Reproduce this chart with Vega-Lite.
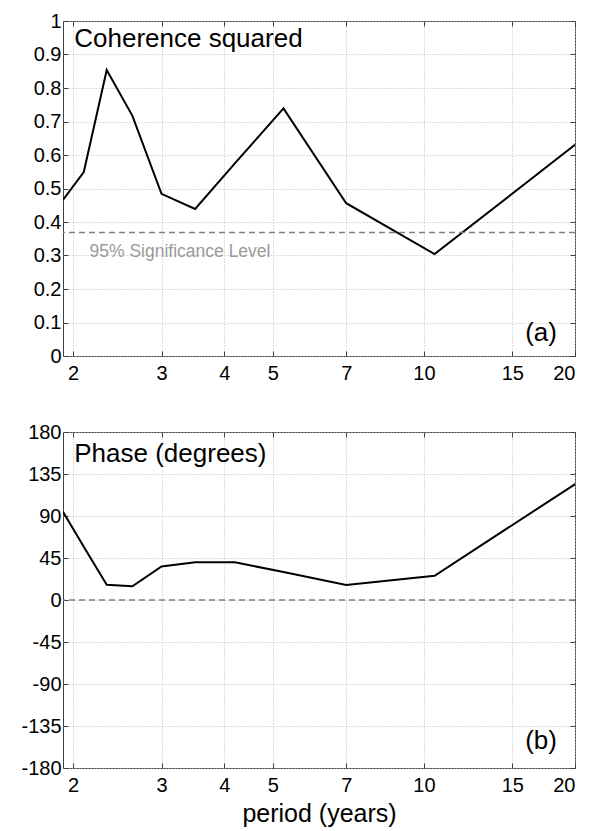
{
  "$schema": "https://vega.github.io/schema/vega-lite/v6.json",
  "padding": {"left": 20, "top": 10, "right": 5, "bottom": 0},
  "background": "white",
  "datasets": {
    "spectra": [
      {"period": 1.909, "coherence": 0.466, "phase": 94.5},
      {"period": 2.1, "coherence": 0.549, "phase": 57},
      {"period": 2.333, "coherence": 0.854, "phase": 16.4},
      {"period": 2.625, "coherence": 0.717, "phase": 14.7},
      {"period": 3.0, "coherence": 0.484, "phase": 36},
      {"period": 3.5, "coherence": 0.439, "phase": 40.4},
      {"period": 4.2, "coherence": 0.575, "phase": 40.4},
      {"period": 5.25, "coherence": 0.739, "phase": 30},
      {"period": 7.0, "coherence": 0.456, "phase": 16},
      {"period": 10.5, "coherence": 0.304, "phase": 26},
      {"period": 21.0, "coherence": 0.655, "phase": 131.5}
    ]
  },
  "config": {
    "font": "Liberation Sans",
    "view": {"stroke": "#404040", "strokeWidth": 1},
    "axis": {
      "domain": false,
      "labelFont": "Liberation Sans",
      "labelFontSize": 20,
      "labelColor": "#000",
      "tickColor": "#404040",
      "tickSize": -5,
      "gridColor": "#bdbdbd",
      "gridDash": [1, 2],
      "gridWidth": 1,
      "titleFont": "Liberation Sans",
      "titleFontWeight": "normal",
      "titleColor": "#000"
    },
    "concat": {"spacing": 37}
  },
  "vconcat": [
    {
      "width": 512,
      "height": 335,
      "layer": [
        {
          "data": {"name": "spectra"},
          "mark": {"type": "line", "color": "#000", "strokeWidth": 2, "clip": true},
          "encoding": {
            "x": {"field": "period", "type": "quantitative",
                  "scale": {"type": "log", "domain": [1.909, 20], "nice": false},
                  "axis": {"orient": "bottom", "values": [2, 3, 4, 5, 7, 10, 15, 20], "labelExpr": "toString(datum.value)", "title": null, "labelPadding": 12}},
            "y": {"field": "coherence", "type": "quantitative",
                  "scale": {"domain": [0, 1], "nice": false},
                  "axis": {"orient": "left", "values": [0, 0.1, 0.2, 0.3, 0.4, 0.5, 0.6, 0.7, 0.8, 0.9, 1], "labelExpr": "toString(datum.value)", "title": null, "labelPadding": 7}}
          }
        },
        {
          "data": {"values": [{"level": 0.369}]},
          "mark": {"type": "rule", "color": "#808080", "strokeDash": [6, 4], "strokeWidth": 1.5},
          "encoding": {"y": {"field": "level", "type": "quantitative", "scale": {"domain": [0, 1], "nice": false}, "axis": null}}
        },
        {
          "data": {"values": [{"label": "95% Significance Level"}]},
          "mark": {"type": "text", "align": "left", "baseline": "alphabetic", "fontSize": 17.5, "color": "#9a9a9a"},
          "encoding": {
            "x": {"datum": 2.156, "type": "quantitative", "scale": {"type": "log", "domain": [1.909, 20], "nice": false}, "axis": null},
            "y": {"datum": 0.296, "type": "quantitative", "scale": {"domain": [0, 1], "nice": false}, "axis": null},
            "text": {"field": "label"}
          }
        },
        {
          "data": {"values": [{"label": "Coherence squared"}]},
          "mark": {"type": "text", "align": "left", "baseline": "alphabetic", "fontSize": 26, "color": "#000"},
          "encoding": {
            "x": {"datum": 2.01, "type": "quantitative", "scale": {"type": "log", "domain": [1.909, 20], "nice": false}, "axis": null},
            "y": {"datum": 0.921, "type": "quantitative", "scale": {"domain": [0, 1], "nice": false}, "axis": null},
            "text": {"field": "label"}
          }
        },
        {
          "data": {"values": [{"label": "(a)"}]},
          "mark": {"type": "text", "align": "right", "baseline": "alphabetic", "fontSize": 26, "color": "#000"},
          "encoding": {
            "x": {"datum": 18.41, "type": "quantitative", "scale": {"type": "log", "domain": [1.909, 20], "nice": false},
                  "axis": {"orient": "top", "values": [2, 3, 4, 5, 7, 10, 15, 20], "labels": false, "grid": false, "title": null}},
            "y": {"datum": 0.045, "type": "quantitative", "scale": {"domain": [0, 1], "nice": false},
                  "axis": {"orient": "right", "values": [0, 0.1, 0.2, 0.3, 0.4, 0.5, 0.6, 0.7, 0.8, 0.9, 1], "labels": false, "grid": false, "title": null}},
            "text": {"field": "label"}
          }
        }
      ],
      "resolve": {"axis": {"x": "independent", "y": "independent"}}
    },
    {
      "width": 512,
      "height": 336,
      "layer": [
        {
          "data": {"name": "spectra"},
          "mark": {"type": "line", "color": "#000", "strokeWidth": 2, "clip": true},
          "encoding": {
            "x": {"field": "period", "type": "quantitative",
                  "scale": {"type": "log", "domain": [1.909, 20], "nice": false},
                  "axis": {"orient": "bottom", "values": [2, 3, 4, 5, 7, 10, 15, 20], "labelExpr": "toString(datum.value)", "title": "period (years)", "titleFontSize": 25, "titlePadding": 6, "labelPadding": 12}},
            "y": {"field": "phase", "type": "quantitative",
                  "scale": {"domain": [-180, 180], "nice": false},
                  "axis": {"orient": "left", "values": [-180, -135, -90, -45, 0, 45, 90, 135, 180], "labelExpr": "toString(datum.value)", "title": null, "labelPadding": 7}}
          }
        },
        {
          "data": {"values": [{"level": 0}]},
          "mark": {"type": "rule", "color": "#808080", "strokeDash": [6, 4], "strokeWidth": 1.5},
          "encoding": {"y": {"field": "level", "type": "quantitative", "scale": {"domain": [-180, 180], "nice": false}, "axis": null}}
        },
        {
          "data": {"values": [{"label": "Phase (degrees)"}]},
          "mark": {"type": "text", "align": "left", "baseline": "alphabetic", "fontSize": 26, "color": "#000"},
          "encoding": {
            "x": {"datum": 2.01, "type": "quantitative", "scale": {"type": "log", "domain": [1.909, 20], "nice": false}, "axis": null},
            "y": {"datum": 148, "type": "quantitative", "scale": {"domain": [-180, 180], "nice": false}, "axis": null},
            "text": {"field": "label"}
          }
        },
        {
          "data": {"values": [{"label": "(b)"}]},
          "mark": {"type": "text", "align": "right", "baseline": "alphabetic", "fontSize": 26, "color": "#000"},
          "encoding": {
            "x": {"datum": 18.41, "type": "quantitative", "scale": {"type": "log", "domain": [1.909, 20], "nice": false},
                  "axis": {"orient": "top", "values": [2, 3, 4, 5, 7, 10, 15, 20], "labels": false, "grid": false, "title": null}},
            "y": {"datum": -160, "type": "quantitative", "scale": {"domain": [-180, 180], "nice": false},
                  "axis": {"orient": "right", "values": [-180, -135, -90, -45, 0, 45, 90, 135, 180], "labels": false, "grid": false, "title": null}},
            "text": {"field": "label"}
          }
        }
      ],
      "resolve": {"axis": {"x": "independent", "y": "independent"}}
    }
  ]
}
